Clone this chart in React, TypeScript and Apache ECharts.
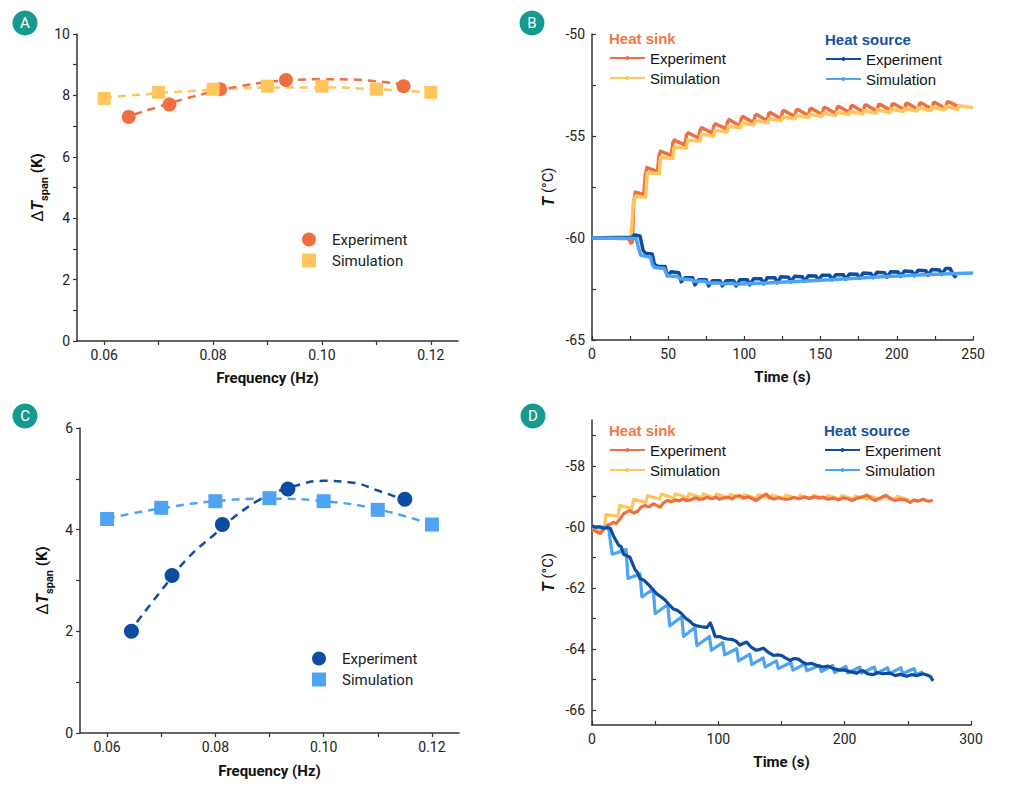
import React, { useEffect, useRef } from "react";
import * as echarts from "echarts";

// ---- panels A and C: temperature span vs frequency ----
const freqExp = [0.0645, 0.072, 0.0813, 0.0934, 0.115];
const freqSim = [0.06, 0.07, 0.08, 0.09, 0.1, 0.11, 0.12];
const fitFreqExp = [0.0655, 0.07, 0.075, 0.08, 0.085, 0.09, 0.095, 0.1, 0.105, 0.11, 0.1145];

const spanExpA = [7.3, 7.7, 8.2, 8.5, 8.3];
const spanSimA = [7.9, 8.1, 8.2, 8.3, 8.3, 8.2, 8.1];
const fitExpA = [7.38, 7.63, 7.9, 8.12, 8.3, 8.43, 8.5, 8.53, 8.52, 8.46, 8.36];
const fitSimA = [7.93, 8.07, 8.18, 8.25, 8.26, 8.2, 8.1];

const spanExpC = [2.0, 3.1, 4.1, 4.8, 4.6];
const spanSimC = [4.21, 4.43, 4.56, 4.62, 4.56, 4.39, 4.1];
const fitExpC = [2.18, 2.8, 3.45, 3.92, 4.37, 4.68, 4.87, 4.96, 4.93, 4.77, 4.6];
const fitSimC = [4.22, 4.42, 4.56, 4.61, 4.56, 4.4, 4.1];

const freqTicks = [0.06, 0.07, 0.08, 0.09, 0.1, 0.11, 0.12];
const freqLabels = [0.06, 0.08, 0.1, 0.12];
const spanTicksA = [0, 1, 2, 3, 4, 5, 6, 7, 8, 9, 10];
const spanLabelsA = [0, 2, 4, 6, 8, 10];
const spanTicksC = [0, 1, 2, 3, 4, 5, 6];
const spanLabelsC = [0, 2, 4, 6];

// ---- panel B: time traces [t (s), T (°C)] ----
const sinkExpB = [
  [0, -60.0], [24, -60.02], [25.5, -60.25], [26.5, -60.2], [27.3, -58.3], [28.5, -57.75], [31, -57.8], [34, -57.9],
  [35, -56.9], [36, -56.55], [43, -56.75], [44, -55.95], [45, -55.75], [52, -55.95], [53, -55.35], [54, -55.2],
  [61, -55.45], [62, -54.95], [63, -54.85], [70, -55.1], [71, -54.7], [72, -54.6], [79, -54.85], [80, -54.5],
  [81, -54.4], [88, -54.65], [89, -54.3], [90, -54.2], [97, -54.5], [98, -54.12], [99, -54.05], [106, -54.35],
  [107, -54.0], [108, -53.95], [115, -54.25], [116, -53.9], [117, -53.85], [124, -54.15], [125, -53.8], [126, -53.75],
  [133, -54.05], [134, -53.74], [135, -53.7], [142, -54.0], [143, -53.68], [144, -53.65], [151, -53.95], [152, -53.63],
  [153, -53.6], [160, -53.9], [161, -53.58], [162, -53.55], [169, -53.85], [170, -53.53], [171, -53.5], [178, -53.82],
  [179, -53.5], [180, -53.48], [187, -53.78], [188, -53.47], [189, -53.45], [196, -53.75], [197, -53.44], [198, -53.42],
  [205, -53.72], [206, -53.42], [207, -53.4], [214, -53.7], [215, -53.4], [216, -53.38], [223, -53.68], [224, -53.38],
  [225, -53.36], [232, -53.65], [233, -53.34], [234, -53.32], [240, -53.55], [241, -53.5],
];
const sinkSimB = [
  [0, -60.0], [25.5, -60.0], [26.3, -59.2], [27.2, -58.2], [28.5, -57.95], [35.2, -58.0], [36.2, -56.8], [44.1, -56.85],
  [45, -56.05], [53, -56.1], [53.9, -55.55], [61.9, -55.6], [62.8, -55.2], [70.8, -55.25], [71.7, -54.92], [79.7, -55.0],
  [80.6, -54.72], [88.6, -54.8], [89.5, -54.52], [97.5, -54.6], [98.4, -54.37], [106.4, -54.45], [107.3, -54.26],
  [115.3, -54.35], [116.2, -54.16], [124.2, -54.25], [125.1, -54.07], [133.1, -54.15], [134, -54.0], [142, -54.1],
  [142.9, -53.93], [150.9, -54.04], [151.8, -53.88], [159.8, -54.0], [160.7, -53.84], [168.7, -53.95], [169.6, -53.8],
  [177.6, -53.92], [178.5, -53.76], [186.5, -53.88], [187.4, -53.72], [195.4, -53.85], [196.3, -53.68], [204.3, -53.8],
  [205.2, -53.65], [213.2, -53.78], [214.1, -53.62], [222.1, -53.75], [223, -53.58], [231, -53.72], [231.9, -53.55],
  [239.9, -53.7], [240.8, -53.52], [250, -53.62],
];
const sourceExpB = [
  [0, -60.0], [15, -59.98], [26, -59.97], [28, -59.85], [31.5, -59.9], [33.5, -60.6], [35, -60.75], [39.5, -60.78],
  [41, -61.3], [43.5, -61.4], [48, -61.4], [49.5, -61.85], [52, -61.65], [57, -61.7], [58.5, -62.15], [61, -61.95],
  [66, -61.95], [67.5, -62.3], [70, -62.05], [75, -62.05], [76.5, -62.35], [79, -62.1], [84, -62.1], [85.5, -62.35],
  [88, -62.1], [93, -62.1], [94.5, -62.35], [97, -62.05], [102, -62.05], [103.5, -62.3], [106, -62.0], [111, -62.0],
  [112.5, -62.25], [115, -61.95], [120, -61.95], [121.5, -62.2], [124, -61.9], [129, -61.92], [130.5, -62.15],
  [133, -61.88], [138, -61.9], [139.5, -62.12], [142, -61.85], [147, -61.86], [148.5, -62.08], [151, -61.82],
  [156, -61.83], [157.5, -62.05], [160, -61.8], [165, -61.8], [166.5, -62.02], [169, -61.76], [174, -61.78],
  [175.5, -61.98], [178, -61.72], [183, -61.74], [184.5, -61.95], [187, -61.68], [192, -61.7], [193.5, -61.92],
  [196, -61.65], [201, -61.67], [202.5, -61.88], [205, -61.62], [210, -61.64], [211.5, -61.85], [214, -61.58],
  [219, -61.6], [220.5, -61.82], [223, -61.55], [228, -61.57], [229.5, -61.78], [232, -61.5], [235, -61.5],
  [237, -61.78], [239, -61.95],
];
const sourceSimB = [
  [0, -60.0], [29, -60.02], [30.5, -60.5], [32, -60.85], [38.5, -60.95], [39.5, -61.3], [41, -61.45], [47.5, -61.5],
  [48.5, -61.7], [50, -61.85], [56.5, -61.9], [57.5, -62.0], [65.5, -62.05], [66.5, -62.12], [74.5, -62.12],
  [75.5, -62.2], [83.5, -62.2], [84.5, -62.25], [92.5, -62.22], [93.5, -62.27], [110, -62.22], [130, -62.15],
  [150, -62.07], [170, -61.98], [190, -61.9], [210, -61.83], [230, -61.77], [250, -61.72],
];

// ---- panel D: time traces [t (s), T (°C)] ----
const sinkSimD = [
  [0, -60.1], [9.5, -60.1], [11, -59.6], [20.5, -59.65], [22, -59.3], [31.5, -59.4], [33, -59.1], [42.5, -59.2],
  [44, -58.98], [53.5, -59.1], [55, -58.93], [64.5, -59.06], [66, -58.92], [75.5, -59.05], [77, -58.92], [86.5, -59.05],
  [88, -58.93], [97, -59.05], [98.5, -58.93], [108, -59.06], [109.5, -58.94], [119, -59.06], [120.5, -58.95],
  [130, -59.07], [131.5, -58.95], [141, -59.07], [142.5, -58.96], [152, -59.08], [153.5, -58.96], [163, -59.08],
  [164.5, -58.97], [174, -59.08], [175.5, -58.97], [185, -59.08], [186.5, -58.98], [196, -59.09], [197.5, -58.98],
  [207, -59.09], [208.5, -58.99], [218, -59.1], [219.5, -58.99], [229, -59.1], [230.5, -59.0], [240, -59.1],
  [241.5, -59.0], [251, -59.12],
];
const sinkExpD = [
  [0, -60.1], [3, -60.15], [6.5, -60.22], [9, -60.1], [12, -59.95], [14.5, -59.92], [17, -59.85], [19, -59.9],
  [21, -59.8], [23, -59.7], [25, -59.58], [28, -59.5], [30, -59.47], [33, -59.55], [36, -59.5], [39, -59.35],
  [42, -59.3], [45, -59.35], [48.7, -59.25], [51, -59.3], [54, -59.36], [57, -59.2], [60, -59.14], [63, -59.18],
  [66, -59.12], [69, -59.15], [72, -59.09], [75, -59.14], [78, -59.12], [82, -59.05], [85, -59.1], [88, -59.09],
  [91, -59.03], [95, -59.08], [98, -59.03], [101, -59.1], [104, -59.06], [108, -59.03], [111, -59.09], [114, -59.0],
  [117, -58.98], [120, -59.06], [124, -59.02], [127, -59.08], [130, -59.14], [134, -59.02], [138, -58.93],
  [141, -59.05], [144, -59.09], [148, -59.05], [152, -59.1], [156, -59.09], [160, -59.04], [164, -59.08],
  [168, -59.03], [172, -59.07], [176, -59.02], [180, -59.06], [183, -59.03], [187, -59.1], [191, -59.06],
  [195, -59.12], [199, -59.05], [203, -59.09], [206, -59.14], [210, -59.06], [214, -59.02], [217.5, -58.97],
  [221, -59.07], [224, -59.14], [228, -59.06], [231, -59.0], [233, -58.97], [236, -59.08], [240, -59.14],
  [244, -59.1], [248, -59.12], [252, -59.2], [255, -59.12], [258, -59.16], [262, -59.1], [266, -59.16], [270, -59.14],
];
const sourceSimD = [
  [0, -60.0], [13, -60.02], [16, -60.9], [27, -60.75], [28.5, -61.7], [38, -61.55], [39.5, -62.3], [48.5, -62.05],
  [50, -62.85], [60, -62.55], [61.5, -63.25], [71, -62.95], [72.5, -63.6], [81.5, -63.3], [83, -63.9], [93, -63.6],
  [94.5, -64.05], [103.5, -63.8], [105, -64.2], [114.5, -64.0], [116, -64.4], [125, -64.18], [126.5, -64.52],
  [135.5, -64.3], [137, -64.6], [146, -64.4], [147.5, -64.65], [157.5, -64.45], [159, -64.7], [168.5, -64.5],
  [170, -64.72], [180, -64.55], [181.5, -64.75], [190.5, -64.55], [192, -64.78], [201, -64.58], [202.5, -64.8],
  [212, -64.6], [213.5, -64.8], [223.5, -64.6], [225, -64.82], [234, -64.62], [235.5, -64.82], [244.5, -64.62],
  [246, -64.82], [255, -64.65], [256.5, -64.85], [262, -64.75],
];
const sourceExpD = [
  [0, -59.97], [3, -60.02], [6, -60.0], [9, -60.05], [12, -60.03], [14.5, -60.05], [17, -60.3], [19, -60.45],
  [21, -60.6], [23, -60.65], [25, -60.9], [27.5, -60.95], [30, -61.0], [32, -61.2], [34, -61.4], [36, -61.5],
  [38, -61.7], [41, -61.75], [44.7, -61.9], [48, -62.05], [51.3, -62.2], [54, -62.28], [57.8, -62.4], [61, -62.55],
  [64.5, -62.7], [68, -62.75], [71, -62.85], [74, -63.0], [77.6, -63.1], [80, -63.2], [83, -63.25], [87, -63.28],
  [91, -63.3], [93.6, -63.15], [95.5, -63.35], [97.5, -63.6], [101, -63.6], [104, -63.65], [107, -63.68],
  [111, -63.7], [114, -63.75], [117, -63.88], [120, -63.82], [122.5, -63.78], [126, -63.95], [130, -64.05],
  [133, -64.02], [135.7, -63.98], [139, -64.1], [143.6, -64.22], [147, -64.2], [150, -64.22], [153, -64.3],
  [156.8, -64.38], [160, -64.32], [163.4, -64.34], [167, -64.45], [170, -64.5], [174, -64.48], [178, -64.55],
  [183, -64.6], [187, -64.57], [191, -64.65], [196.4, -64.7], [200, -64.7], [204, -64.75], [209.6, -64.8],
  [212, -64.74], [214.8, -64.72], [218, -64.82], [222.7, -64.85], [226, -64.78], [230, -64.82], [235.8, -64.8],
  [240, -64.88], [244, -64.84], [249, -64.9], [253, -64.85], [257, -64.88], [262, -64.82], [265, -64.86],
  [267.6, -64.9], [270, -65.05],
];

const timeTicksB = [0, 25, 50, 75, 100, 125, 150, 175, 200, 225, 250];
const timeLabelsB = [0, 50, 100, 150, 200, 250];
const tempTicksB = [-65, -62.5, -60, -57.5, -55, -52.5, -50];
const tempLabelsB = [-65, -60, -55, -50];
const timeTicksD = [0, 50, 100, 150, 200, 250, 300];
const timeLabelsD = [0, 100, 200, 300];
const tempTicksD = [-66, -65, -64, -63, -62, -61, -60, -59, -58, -57];
const tempLabelsD = [-66, -64, -62, -60, -58];

const ORANGE = "#ee6f3f";
const YELLOW = "#ffc65e";
const DARK_BLUE = "#0c4da2";
const LIGHT_BLUE = "#4ea4f2";
const TEAL = "#149a8f";
const AXIS = "#333";

const zip = (xs: number[], ys: number[]) => xs.map((x, i) => [x, ys[i]]);

const axisOf = (
  grid: number,
  min: number,
  max: number,
  labels: number[],
  ticks: number[],
  name: string,
  gap: number,
  inside: boolean,
  extra: any = {}
) => ({
  type: "value",
  gridIndex: grid,
  min,
  max,
  name,
  nameLocation: "middle",
  nameGap: gap,
  nameTextStyle: { fontFamily: "Roboto", fontWeight: "bold", fontSize: 15, color: "#111" },
  axisLine: { onZero: false, lineStyle: { color: AXIS, width: 1.5 } },
  axisTick: { customValues: ticks, inside, length: 4, lineStyle: { color: AXIS, width: 1.2 } },
  axisLabel: { customValues: labels, fontFamily: "Roboto", fontSize: 14, color: "#222", margin: 7 },
  splitLine: { show: false },
  ...extra,
});

const freqLabel = {
  customValues: freqLabels,
  fontFamily: "Roboto",
  fontSize: 14,
  color: "#222",
  margin: 7,
  formatter: (v: number) => v.toFixed(2),
};

const spanName = "{d|Δ}{t|T}{s|span}{k| (K)}";
const spanRich = {
  d: { fontFamily: "Roboto", fontSize: 16, lineHeight: 20 },
  t: { fontFamily: "Roboto", fontSize: 16, fontWeight: "bold", fontStyle: "italic", lineHeight: 20 },
  s: { fontFamily: "Roboto", fontSize: 11, fontWeight: "bold", lineHeight: 20, verticalAlign: "bottom", padding: [0, 0, -3, 0] },
  k: { fontFamily: "Roboto", fontSize: 15, fontWeight: "bold", lineHeight: 20 },
};
const tempName = "{t|T}{k| (°C)}";
const tempRich = {
  t: { fontFamily: "Roboto", fontSize: 16, fontWeight: "bold", fontStyle: "italic" },
  k: { fontFamily: "Roboto", fontSize: 15 },
};

const strip = (name: string) => name.split(" ").pop() as string;

const scatterLegend = (left: number, top: number, names: string[]) => ({
  left,
  top,
  orient: "vertical",
  padding: 0,
  itemWidth: 14,
  itemHeight: 14,
  itemGap: 6,
  selectedMode: false,
  data: names,
  formatter: strip,
  textStyle: { fontFamily: "Roboto", fontSize: 15, color: "#222", lineHeight: 14, padding: [0, 0, 0, 11] },
});

const lineLegend = (left: number, top: number, names: string[]) => ({
  left,
  top,
  orient: "vertical",
  padding: 0,
  itemWidth: 35,
  itemHeight: 5,
  itemGap: 4,
  selectedMode: false,
  data: names,
  formatter: strip,
  textStyle: { fontFamily: "Liberation Sans", fontSize: 15, color: "#111", lineHeight: 16 },
});

const fitLine = (name: string, grid: number, data: number[][], color: string) => ({
  name,
  type: "line",
  xAxisIndex: grid,
  yAxisIndex: grid,
  data,
  smooth: true,
  symbol: "none",
  lineStyle: { color, width: 2.5, type: [8, 6] },
  z: 2,
});

const markers = (name: string, grid: number, data: number[][], color: string, symbol: string, size: number) => ({
  name,
  type: "scatter",
  xAxisIndex: grid,
  yAxisIndex: grid,
  data,
  symbol,
  symbolSize: size,
  itemStyle: { color, opacity: 1 },
  z: 3,
});

const trace = (name: string, grid: number, data: number[][], color: string, width: number) => ({
  name,
  type: "line",
  xAxisIndex: grid,
  yAxisIndex: grid,
  data,
  symbol: "circle",
  showSymbol: false,
  itemStyle: { color },
  lineStyle: { color, width, join: "round" },
});

const badge = (x: number, y: number, letter: string) => ({
  type: "group",
  children: [
    { type: "circle", shape: { cx: x, cy: y, r: 12.5 }, style: { fill: TEAL } },
    {
      type: "text",
      x,
      y,
      style: { text: letter, fill: "#fff", fontFamily: "Roboto", fontSize: 15, align: "center", verticalAlign: "middle" },
    },
  ],
});

const heading = (x: number, y: number, text: string, color: string) => ({
  type: "text",
  x,
  y,
  style: { text, fill: color, fontFamily: "Liberation Sans", fontWeight: "bold", fontSize: 15, verticalAlign: "middle" },
});

const App = () => {
  const chartRef = useRef<HTMLDivElement>(null);

  useEffect(() => {
    const chart = echarts.init(chartRef.current, null, { renderer: "svg" });

    const option = {
      animation: false,
      backgroundColor: "#fff",
      grid: [
        { left: 77, top: 34, width: 381, height: 307 },
        { left: 592, top: 34, width: 381, height: 306 },
        { left: 80, top: 428, width: 379, height: 305 },
        { left: 592, top: 420, width: 379, height: 305 },
      ],
      xAxis: [
        axisOf(0, 0.055, 0.125, freqLabels, freqTicks, "Frequency (Hz)", 29, false, { axisLabel: freqLabel }),
        axisOf(1, 0, 250, timeLabelsB, timeTicksB, "Time (s)", 29, true),
        axisOf(2, 0.055, 0.125, freqLabels, freqTicks, "Frequency (Hz)", 30, false, { axisLabel: freqLabel }),
        axisOf(3, 0, 300, timeLabelsD, timeTicksD, "Time (s)", 29, true),
      ],
      yAxis: [
        axisOf(0, 0, 10, spanLabelsA, spanTicksA, spanName, 28, false, {
          nameTextStyle: { rich: spanRich, color: "#111" },
        }),
        axisOf(1, -65, -50, tempLabelsB, tempTicksB, tempName, 36, true, {
          nameTextStyle: { rich: tempRich, color: "#111" },
        }),
        axisOf(2, 0, 6, spanLabelsC, spanTicksC, spanName, 28, false, {
          nameTextStyle: { rich: spanRich, color: "#111" },
        }),
        axisOf(3, -66.5, -56.5, tempLabelsD, tempTicksD, tempName, 36, true, {
          nameTextStyle: { rich: tempRich, color: "#111" },
        }),
      ],
      legend: [
        scatterLegend(302, 232, ["A Experiment", "A Simulation"]),
        lineLegend(609, 50, ["Bsink Experiment", "Bsink Simulation"]),
        lineLegend(825, 51, ["Bsource Experiment", "Bsource Simulation"]),
        scatterLegend(312, 651, ["C Experiment", "C Simulation"]),
        lineLegend(609, 442, ["Dsink Experiment", "Dsink Simulation"]),
        lineLegend(824, 442, ["Dsource Experiment", "Dsource Simulation"]),
      ],
      graphic: [
        badge(25, 23, "A"),
        badge(532, 23, "B"),
        badge(25, 416, "C"),
        badge(533, 416, "D"),
        heading(609, 38, "Heat sink", "#ef7a4b"),
        heading(825, 39, "Heat source", "#1452a4"),
        heading(609, 430, "Heat sink", "#ef7a4b"),
        heading(824, 430, "Heat source", "#1452a4"),
      ],
      series: [
        // A
        fitLine("A fitSim", 0, zip(freqSim, fitSimA), YELLOW),
        fitLine("A fitExp", 0, zip(fitFreqExp, fitExpA), ORANGE),
        markers("A Experiment", 0, zip(freqExp, spanExpA), ORANGE, "circle", 14),
        markers("A Simulation", 0, zip(freqSim, spanSimA), YELLOW, "rect", 13),
        // B
        trace("Bsink Experiment", 1, sinkExpB, ORANGE, 3.5),
        trace("Bsink Simulation", 1, sinkSimB, YELLOW, 3.5),
        trace("Bsource Experiment", 1, sourceExpB, DARK_BLUE, 3.5),
        trace("Bsource Simulation", 1, sourceSimB, LIGHT_BLUE, 3.5),
        // C
        fitLine("C fitSim", 2, zip(freqSim, fitSimC), LIGHT_BLUE),
        fitLine("C fitExp", 2, zip(fitFreqExp, fitExpC), DARK_BLUE),
        markers("C Experiment", 2, zip(freqExp, spanExpC), DARK_BLUE, "circle", 15),
        markers("C Simulation", 2, zip(freqSim, spanSimC), LIGHT_BLUE, "rect", 14),
        // D
        trace("Dsink Simulation", 3, sinkSimD, YELLOW, 3.2),
        trace("Dsink Experiment", 3, sinkExpD, ORANGE, 3.2),
        trace("Dsource Simulation", 3, sourceSimD, LIGHT_BLUE, 3.2),
        trace("Dsource Experiment", 3, sourceExpD, DARK_BLUE, 3.2),
      ],
    };

    chart.setOption(option as any);
    return () => {
      chart.dispose();
    };
  }, []);

  return (
    <div
      ref={chartRef}
      style={{ position: "absolute", left: 0, top: 0, width: "1013px", height: "797px" }}
    />
  );
};

export default App;
